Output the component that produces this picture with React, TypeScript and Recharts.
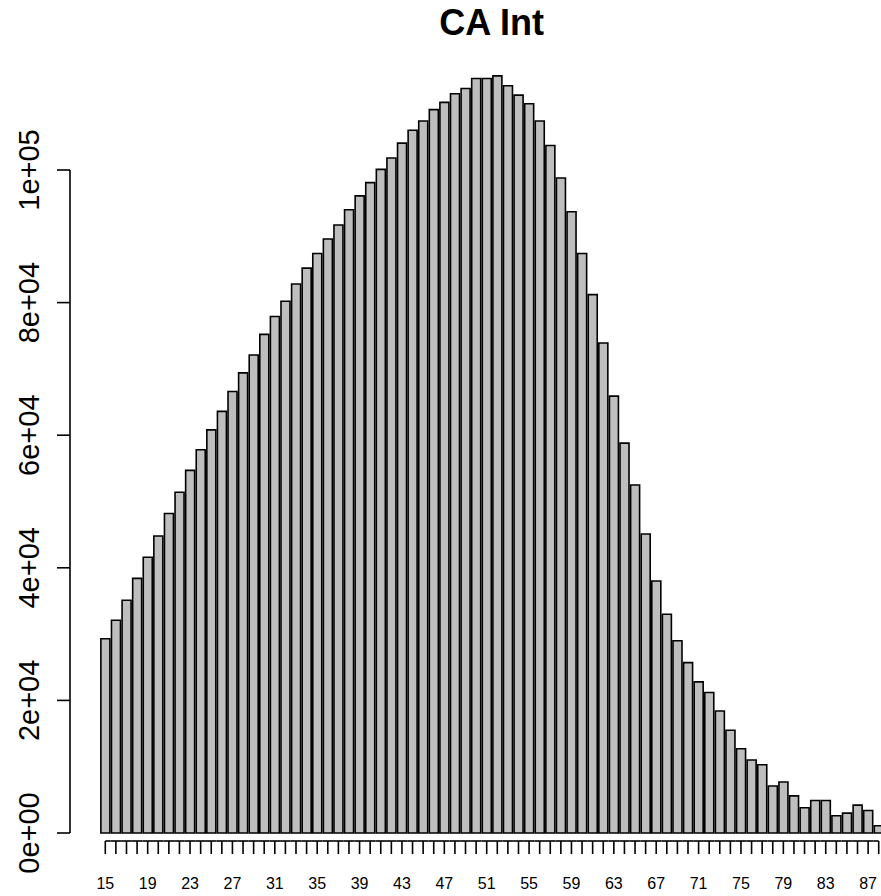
import React from 'react';
import { BarChart, Bar, XAxis, YAxis } from 'recharts';

// ages shown on the x axis (one bar each)
const ages = [
  15, 16, 17, 18, 19, 20, 21, 22, 23, 24, 25, 26, 27, 28, 29, 30, 31, 32, 33, 34,
  35, 36, 37, 38, 39, 40, 41, 42, 43, 44, 45, 46, 47, 48, 49, 50, 51, 52, 53, 54,
  55, 56, 57, 58, 59, 60, 61, 62, 63, 64, 65, 66, 67, 68, 69, 70, 71, 72, 73, 74,
  75, 76, 77, 78, 79, 80, 81, 82, 83, 84, 85, 86, 87, 88,
];

// counts per age
const counts = [
  29300, 32100, 35100, 38400, 41600, 44800, 48200, 51400, 54700, 57800,
  60800, 63600, 66600, 69400, 72100, 75200, 77900, 80200, 82800, 85200,
  87400, 89600, 91700, 94000, 96100, 98100, 100100, 101800, 104050, 106000,
  107400, 109100, 110200, 111500, 112300, 113800, 113800, 114200, 112700, 111300,
  110000, 107400, 103700, 98800, 93700, 87400, 81200, 73900, 65900, 58800,
  52500, 45100, 38000, 33000, 29000, 25700, 22800, 21200, 18400, 15500,
  12700, 11000, 10300, 7100, 7700, 5600, 3800, 4900, 4900, 2600,
  3000, 4200, 3400, 1100,
];

const yTicks = [0, 20000, 40000, 60000, 80000, 100000];
const yTickLabels = ['0e+00', '2e+04', '4e+04', '6e+04', '8e+04', '1e+05'];

const data = ages.map((age, i) => ({ age: String(age), count: counts[i] }));

const FONT = '"Liberation Sans", Arial, Helvetica, sans-serif';
const W = 884;
const H = 896;
const PLOT_LEFT = 100;
const PLOT_BOTTOM = 833;
const Y_MAX = 120000;
const PLOT_TOP = PLOT_BOTTOM - (663 * Y_MAX) / 100000;
const PX_PER_UNIT = (PLOT_BOTTOM - PLOT_TOP) / Y_MAX;
const PITCH = (W - PLOT_LEFT) / ages.length;
const Y_AXIS_X = 70;
const X_AXIS_Y = 841;
const LW = 1.6;

const YTick = (props: any) => {
  const { y, index } = props;
  const label = yTickLabels[index];
  return (
    <g>
      {index === 0 && (
        <line
          x1={Y_AXIS_X}
          x2={Y_AXIS_X}
          y1={y}
          y2={y - yTicks[yTicks.length - 1] * PX_PER_UNIT}
          stroke="#000"
          strokeWidth={LW}
        />
      )}
      <line x1={Y_AXIS_X - 13} x2={Y_AXIS_X} y1={y} y2={y} stroke="#000" strokeWidth={LW} />
      <text
        x={39}
        y={y}
        transform={`rotate(-90, 39, ${y})`}
        textAnchor="middle"
        fontSize={29}
        fontFamily={FONT}
        fill="#000"
      >
        {label}
      </text>
    </g>
  );
};

const XTick = (props: any) => {
  const { x, index, payload } = props;
  const last = ages.length - 1;
  const x1 = index === 0 ? x : x - PITCH / 2;
  const x2 = index === last ? x : x + PITCH / 2;
  return (
    <g>
      <line x1={x1} x2={x2} y1={X_AXIS_Y} y2={X_AXIS_Y} stroke="#000" strokeWidth={LW} />
      <line x1={x} x2={x} y1={X_AXIS_Y} y2={X_AXIS_Y + 13} stroke="#000" strokeWidth={LW} />
      {index % 4 === 0 && (
        <text x={x} y={889} textAnchor="middle" fontSize={16} fontFamily={FONT} fill="#000">
          {payload.value}
        </text>
      )}
    </g>
  );
};

export default function App() {
  return (
    <div
      style={{
        position: 'absolute',
        left: 0,
        top: 0,
        width: 881,
        height: 896,
        overflow: 'hidden',
        background: '#fff',
      }}
    >
      <BarChart
        width={W}
        height={H}
        data={data}
        margin={{ top: PLOT_TOP, right: 0, bottom: 0, left: 0 }}
        barCategoryGap="8.33%"
      >
        <XAxis
          dataKey="age"
          interval={0}
          height={H - PLOT_BOTTOM}
          axisLine={false}
          tickLine={false}
          tick={(p: any) => <XTick {...p} />}
        />
        <YAxis
          type="number"
          domain={[0, Y_MAX]}
          ticks={yTicks}
          interval={0}
          width={PLOT_LEFT}
          axisLine={false}
          tickLine={false}
          tick={(p: any) => <YTick {...p} />}
        />
        <Bar dataKey="count" fill="#bebebe" stroke="#000" strokeWidth={LW} isAnimationActive={false} />
      </BarChart>
      <svg
        width={881}
        height={60}
        style={{ position: 'absolute', left: 0, top: 0, pointerEvents: 'none' }}
      >
        <text x={491.7} y={35} textAnchor="middle" fontSize={36} fontWeight="bold" fontFamily={FONT} fill="#000">
          CA Int
        </text>
      </svg>
    </div>
  );
}
